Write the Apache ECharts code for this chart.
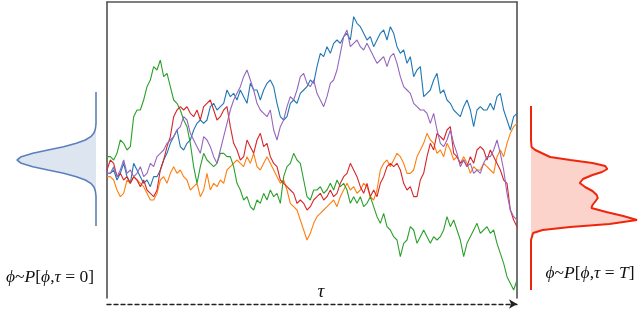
<!DOCTYPE html>
<html><head><meta charset="utf-8">
<script src="https://cdn.jsdelivr.net/npm/echarts@6/dist/echarts.min.js"></script>
<style>html,body{margin:0;padding:0;background:#fff}#c{width:640px;height:309px}</style>
</head><body><div id="c"></div>
<script>
// random-walk trajectories phi(tau), one value per time step
const blue = [-1,-1,0,-3,-1,2,-2,-4,2,0,-2,-4,-3,-5,-2,-2,0,3,5,8,10,12,7,6,8,9,12,14,15,14,
  15,19,20,18,19,20,24,22,23,21,24,22,20,26,24,24,21,24,26,27,25,20,16,15,16,20,21,20,23,24,
  25,27,26,31,35,34,37,35,38,39,38,40,41,39,46,44,43,41,39,40,37,39,41,42,39,43,41,37,35,36,32,
  34,28,30,31,22,23,24,27,29,23,24,21,20,18,17,16,19,21,18,13,18,19,18,18,20,18,22,23,18,15,12,16,17];
const orange = [-2,-2,-3,-6,-8,-7,-3,-4,-2,-3,-4,-5,-7,-9,-9,-7,-3,-2,-4,-1,1,-1,0,-2,-3,-6,-5,-4,-8,-6,
  -1,-6,-4,-5,-3,-4,0,1,2,3,2,1,4,2,5,1,0,2,4,2,0,-2,-4,-3,-6,-10,-11,-12,-15,-18,
  -21,-19,-16,-14,-13,-12,-11,-10,-9,-11,-8,-6,-4,-6,-5,-7,-6,-4,-5,-8,-9,-6,0,2,3,1,3,5,4,2,-1,
  -1,0,4,6,8,11,9,8,5,6,4,8,6,3,4,2,4,2,-1,1,0,0,2,1,0,-1,4,6,4,8,11,13,14];
const green = [4,4,3,5,9,8,6,7,16,18,18,21,25,27,31,30,33,28,29,25,21,20,18,15,13,8,1,-4,1,5,
  3,2,1,2,5,5,4,4,1,-4,-6,-9,-8,-11,-12,-9,-10,-7,-9,-6,-8,-7,-10,-2,1,2,5,3,2,-3,
  -8,-9,-6,-6,-5,-7,-6,-4,-6,-3,-5,-4,-6,-10,-8,-10,-8,-11,-10,-8,-11,-14,-16,-13,-17,-18,-20,-21,-26,-22,-21,
  -17,-18,-22,-20,-18,-20,-22,-20,-21,-20,-18,-14,-17,-15,-18,-21,-26,-22,-20,-18,-16,-19,-18,-17,-19,-18,-22,-25,-28,-32,-34,-36,-33];
const red = [0,3,2,-2,-1,-3,-2,-4,-2,-3,-5,-3,-6,-7,-8,-6,0,3,7,10,16,18,19,18,19,17,16,18,15,19,
  20,21,18,15,16,18,19,13,8,6,3,4,9,7,5,9,11,7,8,4,2,1,-3,-4,-5,-6,-7,-10,-9,-10,
  -12,-11,-9,-8,-7,-9,-8,-6,-8,-7,-4,-2,-1,2,0,-2,-5,-7,-4,-8,-6,-8,-4,-2,1,2,1,2,0,-4,-6,
  -5,-8,-8,-3,-1,4,8,6,11,10,9,12,13,5,4,2,3,1,4,2,6,7,6,3,6,4,2,0,-3,-4,-12,-15,-17];
const purple = [-1,-1,1,-2,0,3,-1,0,-2,-1,1,-2,-1,2,1,4,5,6,8,9,10,12,13,16,15,11,9,7,5,10,
  9,7,4,2,6,10,14,18,21,23,25,28,30,27,24,20,18,17,16,18,12,9,13,15,19,22,21,24,28,29,
  26,25,27,23,21,19,22,26,27,30,35,40,42,37,38,39,37,36,38,36,34,32,33,34,31,34,35,32,28,25,24,
  23,20,19,18,18,17,14,17,12,8,7,9,12,8,5,1,3,1,2,-1,0,-1,2,4,4,6,9,5,0,-7,-12,-14,-15];

// distributions: [phi, density]
const densityStart = [[23.4,0],[14,0],[13,0.004],[12,0.011],[11,0.029],[10,0.066],[9,0.135],[8,0.249],[7,0.41],[6,0.607],[5,0.8],[4,0.946],[3,1],[2,0.946],[1,0.8],[0,0.607],[-1,0.41],[-2,0.249],[-3,0.135],[-4,0.066],[-5,0.029],[-6,0.011],[-7,0.004],[-8,0],[-16.8,0]];
const densityEnd = [[19.2,0],[9,0],[6.9,0.005],[6,0.04],[5.1,0.1],[3.9,0.18],[3,0.37],[2.1,0.58],[1.2,0.7],[0.3,0.72],[-0.6,0.67],[-1.5,0.58],[-2.7,0.49],[-3.9,0.46],[-5.1,0.51],[-6.3,0.58],[-7.5,0.62],[-8.4,0.63],[-9.3,0.61],[-10.5,0.58],[-11.4,0.57],[-12.6,0.71],[-13.8,0.87],[-15,1],[-16.2,0.74],[-17.1,0.37],[-18,0.11],[-18.9,0.02],[-21,0],[-36,0]];

const seriesNames = ['blue','orange','green','red','purple'];
const seriesData = [blue, orange, green, red, purple];
const colors = ['#1f77b4','#ff7f0e','#2ca02c','#d62728','#9467bd'];

const PHI_MIN = -38.4, PHI_MAX = 50.4;
const chart = echarts.init(document.getElementById('c'), null, {renderer:'canvas'});

const hidden = {show:false};
function polySeries(dens, xi, yi, fill){
  return {type:'custom', xAxisIndex:xi, yAxisIndex:yi, data:[[0,0]], silent:true, z:1,
    renderItem:function(params, api){
      const pts = dens.map(p => api.coord([p[1], p[0]]));
      return {type:'polygon', shape:{points:pts}, style:{fill:fill}};
    }};
}
const T = blue.length - 1;
const mainSeries = seriesData.map((arr,k)=>({
  name: seriesNames[k], type:'line', xAxisIndex:0, yAxisIndex:0,
  data: arr.map((v,i)=>[i,v]), showSymbol:false, symbol:'none',
  lineStyle:{width:1.1, color:colors[k]}, itemStyle:{color:colors[k]}, z:3
}));

const FS = 17.5;
const txtRich = {
  i:{fontStyle:'italic', fontFamily:'Liberation Serif', fontSize:FS, fill:'#111', color:'#111'},
  n:{fontFamily:'Liberation Serif', fontSize:FS, fill:'#111', color:'#111'}
};

chart.setOption({
  animation:false,
  backgroundColor:'#fff',
  grid:[
    {left:107, right:123, top:2, bottom:11},
    {left:17, right:544, top:2, bottom:11},
    {left:531, right:3, top:2, bottom:11}
  ],
  xAxis:[
    {type:'value', gridIndex:0, min:0, max:T, position:'bottom', offset:6,
      axisLine:{show:true, onZero:false, symbol:['none','arrow'], symbolSize:[7,8],
        lineStyle:{color:'#222', width:1.3, type:[4,3]}},
      axisTick:hidden, axisLabel:hidden, splitLine:hidden},
    {type:'value', gridIndex:0, min:0, max:T, position:'top',
      axisLine:{show:true, onZero:false, lineStyle:{color:'#555', width:1.5}},
      axisTick:hidden, axisLabel:hidden, splitLine:hidden},
    {type:'value', gridIndex:1, min:0, max:1, inverse:true, show:false},
    {type:'value', gridIndex:2, min:0, max:1, show:false}
  ],
  yAxis:[
    {type:'value', gridIndex:0, min:PHI_MIN, max:PHI_MAX, position:'left',
      axisLine:{show:true, onZero:false, lineStyle:{color:'#444', width:1.5}},
      axisTick:hidden, axisLabel:hidden, splitLine:hidden},
    {type:'value', gridIndex:0, min:PHI_MIN, max:PHI_MAX, position:'right',
      axisLine:{show:true, onZero:false, lineStyle:{color:'#444', width:1.5}},
      axisTick:hidden, axisLabel:hidden, splitLine:hidden},
    {type:'value', gridIndex:1, min:PHI_MIN, max:PHI_MAX, show:false},
    {type:'value', gridIndex:2, min:PHI_MIN, max:PHI_MAX, show:false}
  ],
  series: mainSeries.concat([
    polySeries(densityStart, 2, 2, '#dde5f1'),
    {type:'line', xAxisIndex:2, yAxisIndex:2, data:densityStart.map(p=>[p[1],p[0]]),
      showSymbol:false, symbol:'none', lineStyle:{color:'#5b7fba', width:1.6}, z:3},
    polySeries(densityEnd, 3, 3, '#fbd3cb'),
    {type:'line', xAxisIndex:3, yAxisIndex:3, data:densityEnd.map(p=>[p[1],p[0]]),
      showSymbol:false, symbol:'none', lineStyle:{color:'#f0260c', width:2}, z:3}
  ]),
  graphic:[
    {type:'text', x:50, y:277, style:{text:'{i|ϕ}{n|~}{i|P}{n|[}{i|ϕ}{n|,}{i|τ}{n| = 0]}', rich:txtRich,
      align:'center', verticalAlign:'middle', textAlign:'center', textVerticalAlign:'middle'}},
    {type:'text', x:590, y:273, style:{text:'{i|ϕ}{n|~}{i|P}{n|[}{i|ϕ}{n|,}{i|τ}{n| = }{i|T}{n|]}', rich:txtRich,
      align:'center', verticalAlign:'middle', textAlign:'center', textVerticalAlign:'middle'}},
    {type:'text', x:321, y:292, style:{text:'τ', font:'italic 19px "Liberation Serif"', fill:'#111',
      align:'center', verticalAlign:'middle', textAlign:'center', textVerticalAlign:'middle'}}
  ]
});
</script></body></html>
